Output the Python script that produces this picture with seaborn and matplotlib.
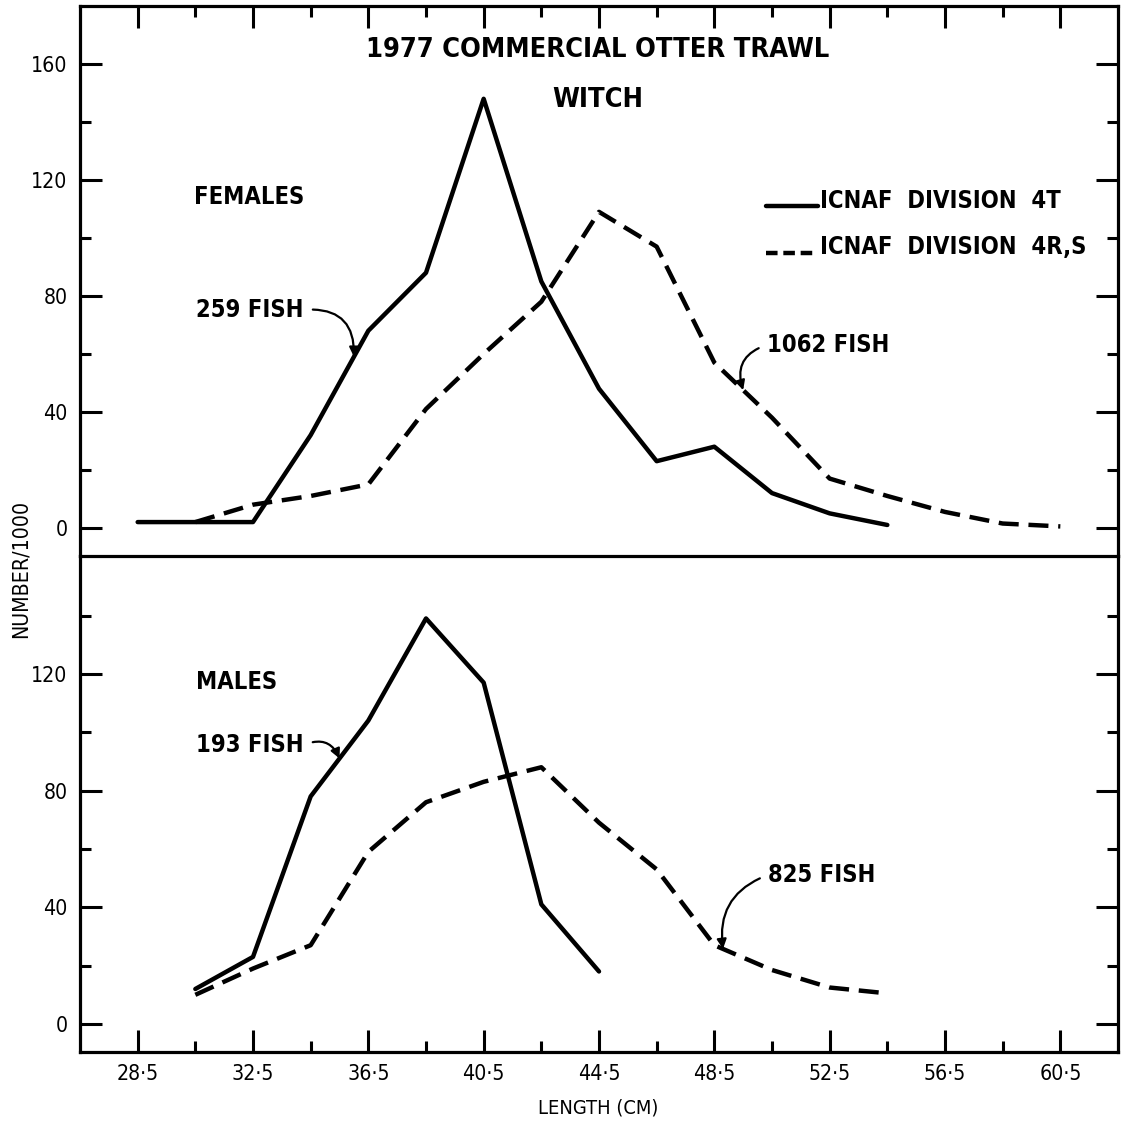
import numpy as np
import pandas as pd
import matplotlib
matplotlib.use("Agg")
import matplotlib.pyplot as plt
import seaborn as sns
from matplotlib.lines import Line2D
from matplotlib.legend_handler import HandlerLine2D
from matplotlib.ticker import FixedLocator, FuncFormatter
from matplotlib import font_manager

# ---------------- data ----------------
female_4t_len = [28.5, 30.5, 32.5, 34.5, 36.5, 38.5, 40.5, 42.5, 44.5, 46.5, 48.5, 50.5, 52.5, 54.5]
female_4t_num = [2, 2, 2, 32, 68, 88, 148, 85, 48, 23, 28, 12, 5, 1]

female_4rs_len = [30.5, 32.5, 34.5, 36.5, 38.5, 40.5, 42.5, 44.5, 46.5, 48.5, 50.5, 52.5, 54.5, 56.5, 58.5, 60.5]
female_4rs_num = [2, 8, 11, 15, 41, 60, 78, 109, 97, 57, 38, 17, 11, 5.5, 1.5, 0.5]

male_4t_len = [30.5, 32.5, 34.5, 36.5, 38.5, 40.5, 42.5, 44.5]
male_4t_num = [12, 23, 78, 104, 139, 117, 41, 18]

male_4rs_len = [30.5, 32.5, 34.5, 36.5, 38.5, 40.5, 42.5, 44.5, 46.5, 48.5, 50.5, 52.5, 54.5]
male_4rs_num = [10, 19, 27, 59, 76, 83, 88, 69, 53, 27, 18.5, 12.5, 10.5]

x_major = [28.5, 32.5, 36.5, 40.5, 44.5, 48.5, 52.5, 56.5, 60.5]
x_minor = [30.5, 34.5, 38.5, 42.5, 46.5, 50.5, 54.5, 58.5]
div_names = ["ICNAF  DIVISION  4T", "ICNAF  DIVISION  4R,S"]

# ---------------- fonts ----------------
names = {f.name for f in font_manager.fontManager.ttflist}
if "Liberation Sans Narrow" in names:
    FAM = "Liberation Sans Narrow"
    STRETCH = "normal"
    SC = 1.0
else:
    FAM = "DejaVu Sans"
    STRETCH = "condensed"
    SC = 0.85

sns.set_style("ticks")
plt.rcParams["font.family"] = [FAM, "DejaVu Sans"]
plt.rcParams["font.stretch"] = STRETCH
plt.rcParams["text.color"] = "black"
plt.rcParams["axes.labelcolor"] = "black"
plt.rcParams["xtick.color"] = "black"
plt.rcParams["ytick.color"] = "black"

fem = pd.concat([
    pd.DataFrame({"length": female_4t_len, "number": female_4t_num, "division": div_names[0]}),
    pd.DataFrame({"length": female_4rs_len, "number": female_4rs_num, "division": div_names[1]}),
])
mal = pd.concat([
    pd.DataFrame({"length": male_4t_len, "number": male_4t_num, "division": div_names[0]}),
    pd.DataFrame({"length": male_4rs_len, "number": male_4rs_num, "division": div_names[1]}),
])

fig = plt.figure(figsize=(11.21, 11.23), dpi=100)
L, R = 80 / 1121, 1118 / 1121
def fy(px):
    return 1 - px / 1123
ax_b = fig.add_axes([L, fy(1052), R - L, fy(556) - fy(1052)])
ax_t = fig.add_axes([L, fy(556), R - L, fy(6) - fy(556)])
ax_t.patch.set_alpha(0)
ax_b.patch.set_alpha(0)

LW = 3.2
DASH = (4.5, 2.2)
dashes = {div_names[0]: "", div_names[1]: DASH}
for ax, df in ((ax_t, fem), (ax_b, mal)):
    sns.lineplot(data=df, x="length", y="number", style="division",
                 style_order=div_names, dashes=dashes, color="black",
                 linewidth=LW, legend=False, ax=ax, estimator=None, sort=False)
    ax.set_xlim(26.5, 62.5)
    ax.set_xlabel("")
    ax.set_ylabel("")
    ax.xaxis.set_major_locator(FixedLocator(x_major))
    ax.xaxis.set_minor_locator(FixedLocator(x_minor))
    for s in ax.spines.values():
        s.set_linewidth(2.3)
        s.set_color("black")
    ax.tick_params(which="major", direction="in", length=16, width=2.2,
                   labelsize=18 * SC, pad=9, colors="black")
    ax.tick_params(which="minor", direction="in", length=8, width=2.2)
    ax.tick_params(axis="y", which="both", left=True, right=True)

ax_t.set_ylim(-9.7, 180)
ax_t.yaxis.set_major_locator(FixedLocator([0, 40, 80, 120, 160]))
ax_t.yaxis.set_minor_locator(FixedLocator([20, 60, 100, 140]))
ax_t.tick_params(axis="x", which="both", top=True, bottom=False, labelbottom=False, labeltop=False)

ax_b.set_ylim(-9.6, 160.4)
ax_b.yaxis.set_major_locator(FixedLocator([0, 40, 80, 120]))
ax_b.yaxis.set_minor_locator(FixedLocator([20, 60, 100, 140]))
ax_b.tick_params(axis="x", which="both", top=False, bottom=True, labelbottom=True)
ax_b.spines["top"].set_visible(False)
ax_b.xaxis.set_major_formatter(FuncFormatter(lambda v, p: f"{v:.1f}".replace(".", "\u00b7")))

bold = dict(fontweight="bold", color="black")

# titles
ax_t.text(44.45, 164.8, "1977 COMMERCIAL OTTER TRAWL", ha="center", va="center", fontsize=23 * SC, **bold)
ax_t.text(44.45, 147.6, "WITCH", ha="center", va="center", fontsize=23 * SC, **bold)
ax_t.text(30.47, 114.1, "FEMALES", ha="left", va="center", fontsize=20 * SC, **bold)
ax_b.text(30.54, 117.2, "MALES", ha="left", va="center", fontsize=20 * SC, **bold)

# legend with keys drawn on the baseline (like "___")
class BaselineHandler(HandlerLine2D):
    def create_artists(self, legend, orig_handle, xdescent, ydescent,
                       width, height, fontsize, trans):
        arts = super().create_artists(legend, orig_handle, xdescent, ydescent,
                                      width, height, fontsize, trans)
        for a in arts:
            y = np.asarray(a.get_ydata(), dtype=float)
            a.set_ydata(y - 0.42 * height)
        return arts

handles = [Line2D([], [], color="black", lw=LW),
           Line2D([], [], color="black", lw=LW, dashes=(2.6, 1.3))]
leg = ax_t.legend(handles, div_names, loc="upper left", bbox_to_anchor=(0.661, 0.668),
                  frameon=False, handlelength=2.2, handletextpad=0.1, labelspacing=0.95,
                  prop=dict(family=[FAM, "DejaVu Sans"], stretch=STRETCH, weight="bold", size=20 * SC),
                  borderaxespad=0, borderpad=0,
                  handler_map={Line2D: BaselineHandler()})
for t in leg.get_texts():
    t.set_color("black")

# annotations with curved arrows
def annot(ax, text, xt, yt, xl, lens, vals, rad, side):
    yl = float(np.interp(xl, lens, vals))
    relpos = (1.0, 0.5) if side == "right" else (0.0, 0.5)
    ax.annotate(text, xy=(xl, yl), xytext=(xt, yt), ha="left", va="center",
                fontsize=20 * SC, **bold,
                arrowprops=dict(arrowstyle="-|>", color="black", lw=1.6,
                                mutation_scale=14, shrinkA=4, shrinkB=0,
                                relpos=relpos,
                                connectionstyle=f"arc3,rad={rad}"))

annot(ax_t, "259 FISH", 30.54, 75.2, 36.0, female_4t_len, female_4t_num, -0.55, "right")
annot(ax_t, "1062 FISH", 50.33, 63.1, 49.5, female_4rs_len, female_4rs_num, 0.5, "left")
annot(ax_b, "193 FISH", 30.54, 95.6, 35.5, male_4t_len, male_4t_num, -0.5, "right")
annot(ax_b, "825 FISH", 50.37, 51.1, 48.8, male_4rs_len, male_4rs_num, 0.4, "left")

fig.text(21 / 1121, fy(569), "NUMBER/1000", rotation=90, ha="center", va="center", fontsize=18 * SC, color="black")
fig.text(598 / 1121, fy(1108), "LENGTH (CM)", ha="center", va="center", fontsize=17 * SC, color="black")

fig.savefig("out.png", dpi=100, facecolor="white")
